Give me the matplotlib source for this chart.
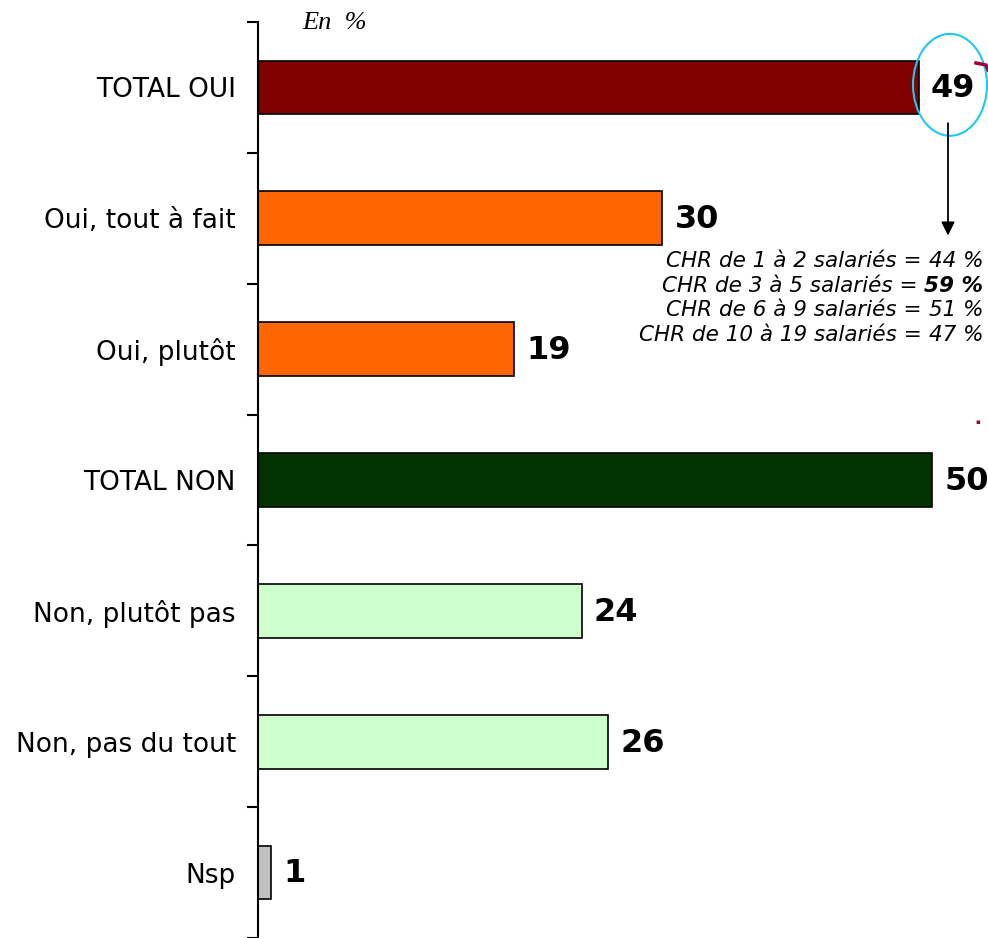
import matplotlib
matplotlib.use("Agg")
import matplotlib.pyplot as plt
from matplotlib.patches import Ellipse
from matplotlib.lines import Line2D

categories = ["TOTAL OUI", "Oui, tout à fait", "Oui, plutôt", "TOTAL NON",
              "Non, plutôt pas", "Non, pas du tout", "Nsp"]
values = [49, 30, 19, 50, 24, 26, 1]
colors = ["#800000", "#FF6600", "#FF6600", "#003300", "#CCFFCC", "#CCFFCC", "#C0C0C0"]
detail_lines = ["CHR de 1 à 2 salariés = ", "CHR de 3 à 5 salariés = ",
                "CHR de 6 à 9 salariés = ", "CHR de 10 à 19 salariés = "]
detail_values = ["44 %", "59 %", "51 %", "47 %"]
detail_bold = [False, True, False, False]

W, H = 988, 938
fig = plt.figure(figsize=(W / 100, H / 100), dpi=100)
ax = fig.add_axes([258 / W, 0, 1 - 258 / W, 1 - 22 / H])

n = len(categories)
pos = list(range(n))
ax.barh(pos, values, height=0.41, color=colors, edgecolor="black", linewidth=1.2)
ax.set_ylim(n - 0.5, -0.5)
ax.set_xlim(0, (W - 258) / 13.48)

for sp in ["top", "right", "bottom"]:
    ax.spines[sp].set_visible(False)
ax.spines["left"].set_linewidth(1.5)
ax.set_xticks([])
ax.set_yticks(pos)
ax.set_yticklabels(categories, fontsize=19)
ax.tick_params(axis="y", which="major", length=0, pad=16)
ax.set_yticks([p - 0.5 for p in range(n + 1)], minor=True)
ax.tick_params(axis="y", which="minor", length=8, width=1.5, direction="out")

for p, v in zip(pos, values):
    ax.text(v + 0.9, p + 0.01, str(v), va="center", ha="left",
            fontsize=23, fontweight="bold")

# "En %"
fig.text(302 / W, 1 - 23 / H, "En  %", fontsize=19, style="italic",
         family="Liberation Serif", va="center", ha="left")

# Ellipse around 49
ell = Ellipse(((950 - 258) / 13.48, -0.02), width=74 / 13.48, height=102 / 131,
              fill=False, edgecolor="#1EC8F0", linewidth=1.5, clip_on=False)
ax.add_patch(ell)

# arrow
ax.annotate("", xy=((948 - 258) / 13.48, (238 - 87) / 131),
            xytext=((948 - 258) / 13.48, (120 - 87) / 131),
            arrowprops=dict(arrowstyle="-|>", color="black", lw=1.3,
                            mutation_scale=20))

# detail text lines (right aligned)
ys = [261, 286, 310, 335]
for y, t, v, b in zip(ys, detail_lines, detail_values, detail_bold):
    tv = fig.text(983 / W, 1 - y / H, v, fontsize=15.5, style="italic",
                  fontweight="bold" if b else "normal", ha="right", va="center")
    fig.canvas.draw()
    bb = tv.get_window_extent()
    fig.text(bb.x0 / W, 1 - y / H, t, fontsize=15.5, style="italic",
             ha="right", va="center")

# small stray marks
fig.add_artist(Line2D([976 / W, 986 / W, 988 / W], [1 - 63 / H, 1 - 65 / H, 1 - 70 / H],
                      color="#A0003C", lw=2.5))
fig.text(975 / W, 1 - 422 / H, "▪", fontsize=5, color="#A0003C", ha="left", va="center")

fig.savefig("out.png", dpi=100)
